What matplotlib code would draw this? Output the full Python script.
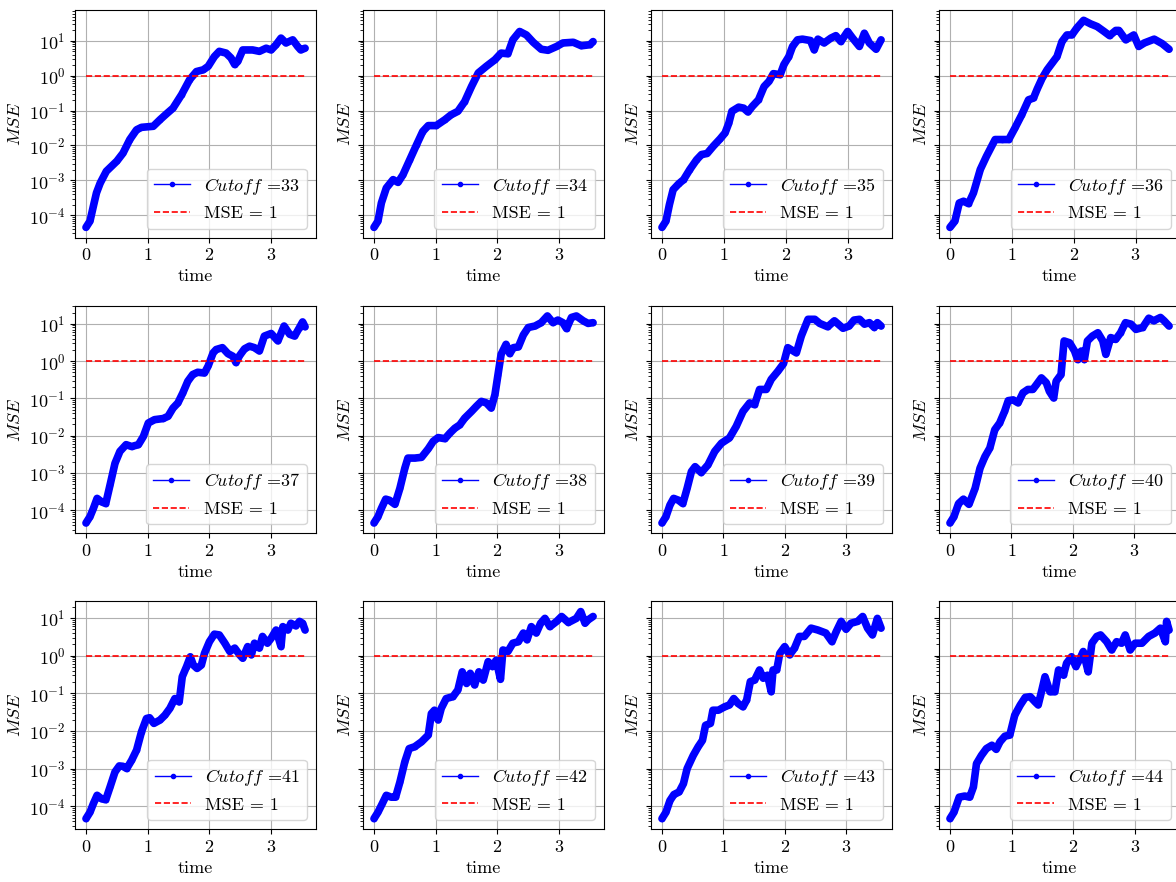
import numpy as np
import matplotlib
matplotlib.use("Agg")
import matplotlib.pyplot as plt
from matplotlib.lines import Line2D

# cutoff values, one panel each
cutoffs = [33, 34, 35, 36, 37, 38, 39, 40, 41, 42, 43, 44]

# time / log10(MSE)
t33 = [0, 0.065, 0.12, 0.17, 0.23, 0.33, 0.5, 0.6, 0.71, 0.82, 0.9, 1.09, 1.2, 1.3, 1.41, 1.55, 1.68, 1.79, 1.9,
       1.98, 2.08, 2.16, 2.27, 2.35, 2.41, 2.46, 2.54, 2.7, 2.81, 2.92, 3.0, 3.08, 3.16, 3.24, 3.35, 3.43, 3.48, 3.55]
m33 = [-4.35, -4.17, -3.74, -3.36, -3.08, -2.74, -2.45, -2.22, -1.83, -1.55, -1.48, -1.45, -1.26, -1.10, -0.93,
       -0.54, -0.11, 0.12, 0.17, 0.27, 0.55, 0.70, 0.65, 0.51, 0.32, 0.41, 0.74, 0.74, 0.70, 0.79, 0.74, 0.89, 1.08,
       0.94, 1.03, 0.84, 0.74, 0.79]

t34 = [0, 0.065, 0.12, 0.2, 0.31, 0.39, 0.47, 0.58, 0.69, 0.79, 0.88, 1.01, 1.15, 1.25, 1.36, 1.47, 1.58, 1.69,
       1.82, 1.96, 2.06, 2.17, 2.25, 2.36, 2.47, 2.58, 2.71, 2.82, 2.96, 3.06, 3.23, 3.36, 3.5, 3.55]
m34 = [-4.35, -4.17, -3.65, -3.22, -2.98, -3.06, -2.84, -2.41, -1.98, -1.6, -1.43, -1.43, -1.26, -1.12, -1.02,
       -0.74, -0.31, 0.08, 0.27, 0.46, 0.65, 0.63, 1.03, 1.27, 1.17, 0.96, 0.76, 0.73, 0.84, 0.94, 0.96, 0.86, 0.89,
       0.98]

t35 = [0, 0.065, 0.12, 0.18, 0.27, 0.35, 0.45, 0.56, 0.64, 0.73, 0.83, 0.94, 1.02, 1.08, 1.13, 1.24, 1.32, 1.39,
       1.46, 1.56, 1.65, 1.73, 1.80, 1.91, 1.97, 2.05, 2.11, 2.19, 2.27, 2.40, 2.46, 2.52, 2.62, 2.73, 2.81, 2.89,
       3.0, 3.08, 3.19, 3.27, 3.35, 3.46, 3.54]
m35 = [-4.35, -4.17, -3.70, -3.27, -3.10, -2.98, -2.69, -2.41, -2.26, -2.23, -2.02, -1.81, -1.64, -1.36, -1.02,
       -0.90, -0.93, -1.04, -0.88, -0.69, -0.31, -0.16, 0.06, 0.03, 0.32, 0.55, 0.84, 1.03, 1.05, 1.01, 0.74, 1.05,
       0.94, 1.08, 1.15, 0.98, 1.27, 1.08, 0.84, 1.22, 0.94, 0.76, 1.03]

t36 = [0, 0.08, 0.15, 0.22, 0.30, 0.38, 0.49, 0.59, 0.73, 0.84, 0.95, 1.05, 1.16, 1.27, 1.35, 1.41, 1.49, 1.57,
       1.65, 1.73, 1.81, 1.89, 1.97, 2.05, 2.16, 2.27, 2.38, 2.49, 2.58, 2.68, 2.73, 2.84, 2.97, 3.05, 3.14, 3.30,
       3.43, 3.54]
m36 = [-4.35, -4.17, -3.65, -3.60, -3.67, -3.36, -2.69, -2.31, -1.83, -1.83, -1.83, -1.50, -1.12, -0.69, -0.64,
       -0.38, -0.07, 0.17, 0.36, 0.55, 0.98, 1.17, 1.17, 1.37, 1.59, 1.49, 1.41, 1.27, 1.15, 1.30, 1.30, 1.03, 1.17,
       0.84, 0.94, 1.05, 0.92, 0.76]

t37 = [0, 0.065, 0.12, 0.18, 0.25, 0.32, 0.39, 0.47, 0.55, 0.65, 0.74, 0.85, 0.93, 1.01, 1.11, 1.25, 1.33, 1.41,
       1.49, 1.57, 1.65, 1.73, 1.81, 1.92, 1.98, 2.06, 2.11, 2.21, 2.30, 2.38, 2.43, 2.49, 2.57, 2.65, 2.73, 2.81,
       2.89, 3.0, 3.11, 3.21, 3.30, 3.38, 3.46, 3.51, 3.55]
m37 = [-4.34, -4.17, -3.95, -3.68, -3.77, -3.82, -3.32, -2.74, -2.42, -2.24, -2.29, -2.24, -2.02, -1.66, -1.57,
       -1.54, -1.48, -1.26, -1.12, -0.85, -0.54, -0.36, -0.30, -0.32, -0.13, 0.22, 0.31, 0.36, 0.20, 0.13, -0.04,
       0.15, 0.33, 0.40, 0.36, 0.27, 0.67, 0.74, 0.54, 0.94, 0.72, 0.67, 0.90, 1.05, 0.92]

t38 = [0, 0.065, 0.12, 0.19, 0.25, 0.34, 0.42, 0.50, 0.55, 0.66, 0.77, 0.88, 0.96, 1.04, 1.15, 1.23, 1.31, 1.39,
       1.47, 1.58, 1.66, 1.74, 1.82, 1.90, 1.96, 2.01, 2.06, 2.14, 2.20, 2.26, 2.34, 2.42, 2.50, 2.61, 2.71, 2.81,
       2.90, 2.98, 3.06, 3.12, 3.20, 3.28, 3.39, 3.47, 3.55]
m38 = [-4.34, -4.17, -3.95, -3.70, -3.73, -3.84, -3.41, -2.87, -2.60, -2.60, -2.58, -2.35, -2.15, -2.05, -2.08,
       -1.93, -1.80, -1.71, -1.53, -1.35, -1.21, -1.08, -1.12, -1.26, -0.90, -0.36, 0.18, 0.45, 0.20, 0.36, 0.38,
       0.70, 0.90, 0.94, 1.03, 1.21, 1.03, 1.10, 1.03, 0.87, 1.17, 1.21, 1.08, 1.01, 1.03]

t39 = [0, 0.065, 0.13, 0.19, 0.27, 0.34, 0.41, 0.48, 0.54, 0.64, 0.75, 0.86, 0.97, 1.10, 1.21, 1.32, 1.43, 1.51,
       1.59, 1.70, 1.78, 1.89, 1.98, 2.05, 2.19, 2.27, 2.38, 2.49, 2.57, 2.70, 2.81, 2.95, 3.05, 3.13, 3.22, 3.30,
       3.38, 3.46, 3.51, 3.57]
m39 = [-4.34, -4.17, -3.86, -3.68, -3.73, -3.82, -3.41, -2.96, -2.83, -2.99, -2.78, -2.42, -2.20, -2.06, -1.75,
       -1.35, -1.12, -1.17, -0.76, -0.76, -0.49, -0.27, -0.07, 0.36, 0.22, 0.67, 1.12, 1.12, 1.01, 0.92, 1.08, 0.88,
       0.94, 1.10, 1.12, 0.99, 1.03, 0.90, 1.03, 0.94]

t40 = [0, 0.065, 0.14, 0.22, 0.31, 0.41, 0.49, 0.57, 0.65, 0.73, 0.81, 0.89, 0.95, 1.03, 1.11, 1.19, 1.27, 1.35,
       1.41, 1.49, 1.57, 1.62, 1.69, 1.73, 1.81, 1.86, 1.95, 2.03, 2.08, 2.14, 2.19, 2.24, 2.32, 2.41, 2.49, 2.54,
       2.62, 2.70, 2.78, 2.86, 2.95, 3.03, 3.14, 3.24, 3.32, 3.43, 3.49, 3.57]
m40 = [-4.34, -4.17, -3.82, -3.70, -3.84, -3.41, -2.87, -2.56, -2.33, -1.84, -1.66, -1.35, -1.06, -1.04, -1.12,
       -0.85, -0.76, -0.76, -0.63, -0.45, -0.58, -0.81, -0.99, -0.54, -0.36, 0.54, 0.49, 0.27, 0.04, 0.27, 0.04,
       0.54, 0.67, 0.76, 0.54, 0.18, 0.63, 0.58, 0.76, 1.03, 0.99, 0.85, 0.90, 1.15, 1.08, 1.17, 1.08, 0.94]

t41 = [0, 0.065, 0.12, 0.18, 0.25, 0.32, 0.39, 0.47, 0.54, 0.60, 0.66, 0.74, 0.82, 0.90, 0.98, 1.03, 1.10, 1.20,
       1.28, 1.36, 1.44, 1.51, 1.56, 1.63, 1.69, 1.74, 1.80, 1.87, 1.92, 2.00, 2.08, 2.16, 2.25, 2.33, 2.41, 2.49,
       2.54, 2.62, 2.68, 2.73, 2.81, 2.86, 2.94, 3.0, 3.08, 3.16, 3.19, 3.27, 3.32, 3.40, 3.46, 3.51, 3.55]
m41 = [-4.33, -4.16, -3.93, -3.71, -3.80, -3.83, -3.49, -3.09, -2.93, -2.94, -3.00, -2.78, -2.51, -2.02, -1.67,
       -1.65, -1.80, -1.71, -1.58, -1.40, -1.14, -1.23, -0.56, -0.29, -0.03, -0.25, -0.34, -0.25, 0.06, 0.37, 0.57,
       0.55, 0.33, 0.11, 0.20, 0.02, -0.07, 0.24, 0.02, 0.33, 0.20, 0.51, 0.33, 0.46, 0.68, 0.24, 0.77, 0.68, 0.86,
       0.79, 0.91, 0.86, 0.68]

t42 = [0, 0.065, 0.135, 0.2, 0.28, 0.35, 0.42, 0.50, 0.57, 0.66, 0.77, 0.88, 0.93, 0.98, 1.04, 1.09, 1.17, 1.28,
       1.36, 1.43, 1.50, 1.56, 1.63, 1.70, 1.77, 1.85, 1.92, 1.98, 2.05, 2.09, 2.17, 2.25, 2.34, 2.42, 2.48, 2.55,
       2.63, 2.70, 2.77, 2.85, 2.96, 3.04, 3.15, 3.28, 3.35, 3.42, 3.47, 3.55]
m42 = [-4.33, -4.16, -3.93, -3.71, -3.76, -3.76, -3.36, -2.82, -2.47, -2.42, -2.29, -2.11, -1.54, -1.45, -1.71,
       -1.40, -1.14, -1.09, -0.91, -0.43, -0.74, -0.47, -0.78, -0.43, -0.65, -0.16, -0.29, -0.12, -0.63, 0.15, 0.11,
       0.33, 0.37, 0.60, 0.42, 0.77, 0.60, 0.86, 0.99, 0.77, 0.91, 1.04, 0.88, 0.99, 1.17, 0.86, 0.95, 1.04]

t43 = [0, 0.065, 0.13, 0.195, 0.28, 0.35, 0.41, 0.51, 0.59, 0.66, 0.71, 0.79, 0.83, 0.92, 1.02, 1.10, 1.17, 1.24,
       1.32, 1.38, 1.44, 1.51, 1.59, 1.65, 1.72, 1.78, 1.81, 1.87, 1.92, 2.0, 2.08, 2.16, 2.24, 2.32, 2.43, 2.54,
       2.67, 2.77, 2.84, 2.92, 3.0, 3.08, 3.19, 3.27, 3.35, 3.43, 3.51, 3.57]
m43 = [-4.33, -4.16, -3.85, -3.69, -3.62, -3.40, -3.00, -2.65, -2.42, -2.25, -1.85, -1.80, -1.45, -1.45, -1.36,
       -1.31, -1.14, -1.27, -1.36, -1.18, -0.69, -0.65, -0.38, -0.60, -0.52, -0.96, -0.38, -0.38, 0.06, 0.24, 0.02,
       0.20, 0.51, 0.51, 0.73, 0.68, 0.60, 0.37, 0.64, 0.91, 0.70, 0.86, 0.91, 1.04, 0.73, 0.55, 0.99, 0.73]

t44 = [0, 0.065, 0.15, 0.24, 0.32, 0.38, 0.43, 0.51, 0.59, 0.68, 0.75, 0.81, 0.89, 0.97, 1.05, 1.14, 1.22, 1.30,
       1.38, 1.43, 1.49, 1.54, 1.62, 1.70, 1.76, 1.84, 1.89, 1.97, 2.04, 2.11, 2.16, 2.24, 2.30, 2.38, 2.44, 2.54,
       2.62, 2.70, 2.78, 2.84, 2.92, 3.0, 3.11, 3.22, 3.32, 3.41, 3.49, 3.51, 3.55]
m44 = [-4.33, -4.16, -3.76, -3.73, -3.76, -3.49, -2.87, -2.65, -2.47, -2.38, -2.49, -2.29, -2.14, -2.11, -1.58,
       -1.31, -1.11, -1.09, -1.23, -1.31, -0.91, -0.56, -0.96, -0.96, -0.38, -0.52, -0.20, -0.03, -0.29, -0.07,
       0.11, -0.43, 0.33, 0.51, 0.55, 0.37, 0.15, 0.37, 0.33, 0.55, 0.15, 0.33, 0.33, 0.51, 0.60, 0.73, 0.37, 0.91,
       0.68]

times = [t33, t34, t35, t36, t37, t38, t39, t40, t41, t42, t43, t44]
log_mse = [m33, m34, m35, m36, m37, m38, m39, m40, m41, m42, m43, m44]

plt.rcParams['font.family'] = 'serif'
plt.rcParams['font.serif'] = ['cmr10']
plt.rcParams['mathtext.fontset'] = 'cm'
plt.rcParams['axes.formatter.use_mathtext'] = True
plt.rcParams['font.size'] = 13

fig, axes = plt.subplots(3, 4, figsize=(11.76, 8.82), dpi=100, sharey='row')
fig.subplots_adjust(left=0.0638, right=1.0034, bottom=0.0601, top=0.9887, wspace=0.195, hspace=0.298)

for ax, c, t, lm in zip(axes.flat, cutoffs, times, log_mse):
    t = np.array(t)
    mse = 10.0 ** np.array(lm)
    ax.plot(t, mse, color='blue', lw=5.5, marker='.', ms=6,
            solid_joinstyle='round', solid_capstyle='round')
    ax.hlines(1, t[0], t[-1], colors='red', linestyles='--', lw=1.2)
    ax.set_yscale('log')
    ax.set_xticks([0, 1, 2, 3])
    ax.grid(True, color='#b0b0b0', lw=0.8)
    ax.set_xlabel('time')
    ax.set_ylabel(r'$MSE$')
    handles = [Line2D([0], [0], color='blue', lw=1, marker='.', ms=6),
               Line2D([0], [0], color='red', ls='--', lw=1.2)]
    ax.legend(handles, [r'$Cutoff$ =' + str(c), 'MSE = 1'], loc='lower right')

fig.savefig('out.png', dpi=100)
